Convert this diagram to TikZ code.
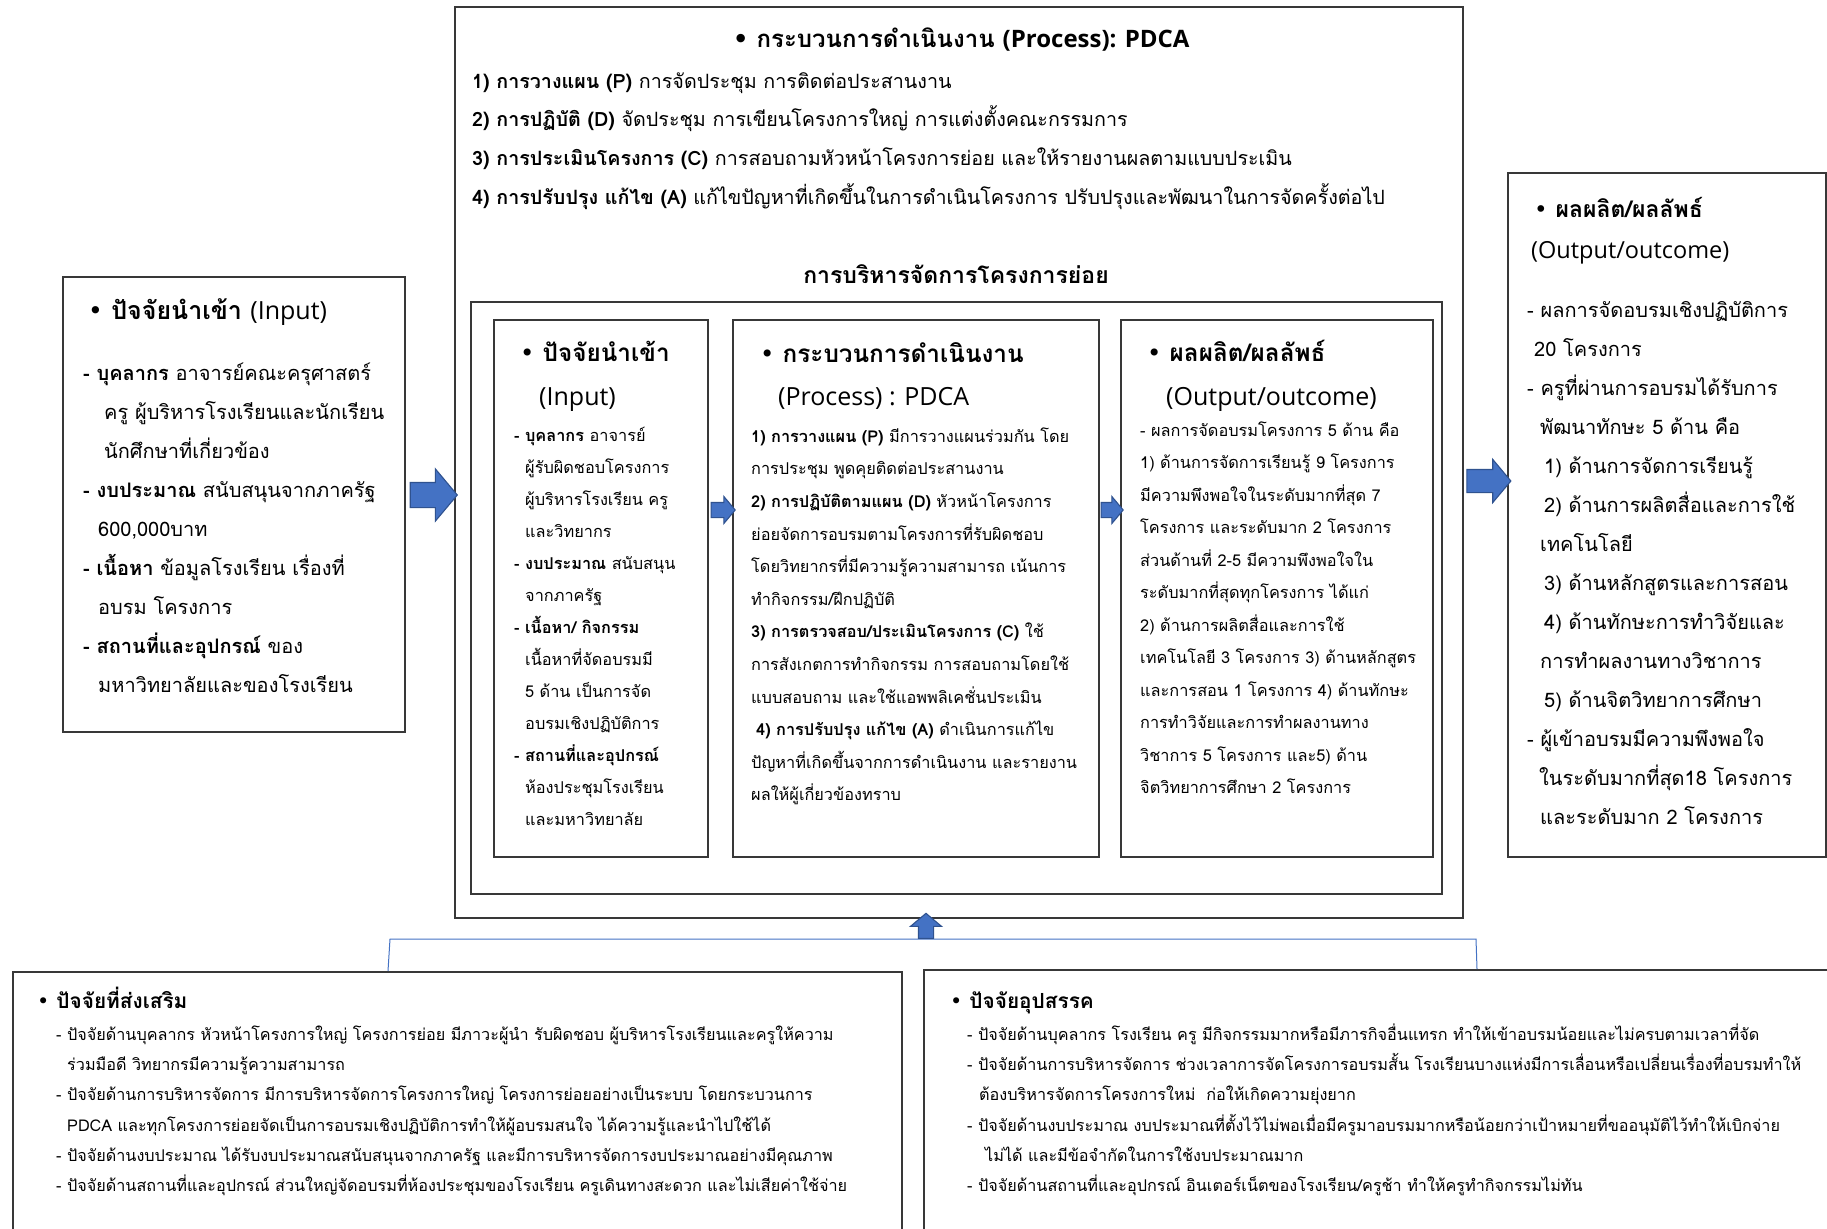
\documentclass[tikz,border=0pt]{standalone}
\usepackage{fontspec}
\setmainfont{Loma}[Script=Thai]
\newfontfamily\dvs{DejaVu Sans}
\newfontfamily\lat{Open Sans}
\usetikzlibrary{shapes.arrows}
\definecolor{abl}{HTML}{4472C4}
\definecolor{abd}{HTML}{2F528F}
\definecolor{edgec}{HTML}{383838}
\tikzset{
  box/.style={draw=edgec, line width=1.6pt, inner sep=0pt, anchor=north west},
  txt/.style={anchor=north west, inner sep=0pt, align=left},
  ttl/.style={anchor=base west, inner sep=0pt},
  blockarr/.style={single arrow, draw=abd, fill=abl, line width=1.1pt, inner sep=0pt,
    text depth=0pt, single arrow tip angle=100},
  bracket/.style={draw=abl, line width=1pt},
}
\newcommand{\bul}{{\dvs •}}
\begin{document}
\begin{tikzpicture}[x=1pt,y=-1pt]
\clip (0,0) rectangle (1827,1228);
\fill[white] (0,0) rectangle (1827,1228);

% ---------- boxes ----------
\node[box, minimum width=1008pt, minimum height=911pt] (top) at (454,6) {};
\node[box, minimum width=971pt, minimum height=592pt] (frame) at (470,301) {};
\node[box, minimum width=214pt, minimum height=537pt] (in1) at (493,319) {};
\node[box, minimum width=366pt, minimum height=537pt] (in2) at (732,319) {};
\node[box, minimum width=312pt, minimum height=537pt] (in3) at (1120,319) {};
\node[box, minimum width=342pt, minimum height=455pt] (left) at (62,276) {};
\node[box, minimum width=318pt, minimum height=684pt] (right) at (1507,172) {};
\node[box, minimum width=889pt, minimum height=280pt] (bl) at (12,971) {};
\node[box, minimum width=930pt, minimum height=280pt] (br) at (923,969) {};

% ---------- top box ----------
\node[ttl, font=\fontsize{24}{29}\selectfont\bfseries] (toptitle) at (733,48)
  {\bul\ กระบวนการดำเนินงาน {\lat (Process): PDCA}};
\node[txt, font=\fontsize{19.7}{38.7}\selectfont] (toptext) at (472,60.9)
  {\strut{\bfseries 1) การวางแผน (P)} การจัดประชุม การติดต่อประสานงาน\\
   {\bfseries 2) การปฏิบัติ (D)} จัดประชุม การเขียนโครงการใหญ่ การแต่งตั้งคณะกรรมการ\\
   {\bfseries 3) การประเมินโครงการ (C)} การสอบถามหัวหน้าโครงการย่อย และให้รายงานผลตามแบบประเมิน\\
   {\bfseries 4) การปรับปรุง แก้ไข (A)} แก้ไขปัญหาที่เกิดขึ้นในการดำเนินโครงการ ปรับปรุงและพัฒนาในการจัดครั้งต่อไป};
\node[anchor=base, inner sep=0pt, font=\fontsize{23}{28}\selectfont\bfseries] (subtitle) at (956,283)
  {การบริหารจัดการโครงการย่อย};

% ---------- left input box ----------
\node[ttl, font=\fontsize{25}{30}\selectfont] (lefttitle) at (88,319)
  {\bul\ {\bfseries ปัจจัยนำเข้า} {\lat\fontsize{25}{30}\selectfont (Input)}};
\node[txt, font=\fontsize{20}{39}\selectfont] (lefttext) at (83,352.7)
  {\strut{\bfseries - บุคลากร} อาจารย์คณะครุศาสตร์\\
   \hspace*{21pt}ครู ผู้บริหารโรงเรียนและนักเรียน\\
   \hspace*{21pt}นักศึกษาที่เกี่ยวข้อง\\
   {\bfseries - งบประมาณ} สนับสนุนจากภาครัฐ\\
   \hspace*{15pt}600,000บาท\\
   {\bfseries - เนื้อหา} ข้อมูลโรงเรียน เรื่องที่\\
   \hspace*{15pt}อบรม โครงการ\\
   {\bfseries - สถานที่และอุปกรณ์} ของ\\
   \hspace*{15pt}มหาวิทยาลัยและของโรงเรียน};

% ---------- inner box 1 ----------
\node[ttl, font=\fontsize{24.3}{29}\selectfont] (in1title) at (520,361)
  {\bul\ {\bfseries ปัจจัยนำเข้า}};
\node[ttl, font=\lat\fontsize{25}{30}\selectfont] (in1title2) at (539,405) {(Input)};
\node[txt, font=\fontsize{16.3}{32}\selectfont] (in1text) at (514,418.6)
  {\strut{\bfseries - บุคลากร} อาจารย์\\
   \hspace*{11pt}ผู้รับผิดชอบโครงการ\\
   \hspace*{11pt}ผู้บริหารโรงเรียน ครู\\
   \hspace*{11pt}และวิทยากร\\
   {\bfseries - งบประมาณ} สนับสนุน\\
   \hspace*{11pt}จากภาครัฐ\\
   {\bfseries - เนื้อหา/ กิจกรรม}\\
   \hspace*{11pt}เนื้อหาที่จัดอบรมมี\\
   \hspace*{11pt}5 ด้าน เป็นการจัด\\
   \hspace*{11pt}อบรมเชิงปฏิบัติการ\\
   {\bfseries - สถานที่และอุปกรณ์}\\
   \hspace*{11pt}ห้องประชุมโรงเรียน\\
   \hspace*{11pt}และมหาวิทยาลัย};

% ---------- inner box 2 ----------
\node[ttl, font=\fontsize{24.3}{29}\selectfont] (in2title) at (760,362)
  {\bul\ {\bfseries กระบวนการดำเนินงาน}};
\node[ttl, font=\lat\fontsize{25}{30}\selectfont] (in2title2) at (778,405) {(Process) : PDCA};
\node[txt, font=\fontsize{16.3}{32.6}\selectfont] (in2text) at (751,419.2)
  {\strut{\bfseries 1) การวางแผน (P)} มีการวางแผนร่วมกัน โดย\\
   การประชุม พูดคุยติดต่อประสานงาน\\
   {\bfseries 2) การปฏิบัติตามแผน (D)} หัวหน้าโครงการ\\
   ย่อยจัดการอบรมตามโครงการที่รับผิดชอบ\\
   โดยวิทยากรที่มีความรู้ความสามารถ เน้นการ\\
   ทำกิจกรรม/ฝึกปฏิบัติ\\
   {\bfseries 3) การตรวจสอบ/ประเมินโครงการ (C)} ใช้\\
   การสังเกตการทำกิจกรรม การสอบถามโดยใช้\\
   แบบสอบถาม และใช้แอพพลิเคชั่นประเมิน\\
   \hspace*{5pt}{\bfseries 4) การปรับปรุง แก้ไข (A)} ดำเนินการแก้ไข\\
   ปัญหาที่เกิดขึ้นจากการดำเนินงาน และรายงาน\\
   ผลให้ผู้เกี่ยวข้องทราบ};

% ---------- inner box 3 ----------
\node[ttl, font=\fontsize{24.3}{29}\selectfont] (in3title) at (1147,361)
  {\bul\ {\bfseries ผลผลิต/ผลลัพธ์}};
\node[ttl, font=\lat\fontsize{25}{30}\selectfont] (in3title2) at (1166,405) {(Output/outcome)};
\node[txt, font=\fontsize{16.3}{32.5}\selectfont] (in3text) at (1140,413.3)
  {\strut - ผลการจัดอบรมโครงการ 5 ด้าน คือ\\
   1) ด้านการจัดการเรียนรู้ 9 โครงการ\\
   มีความพึงพอใจในระดับมากที่สุด 7\\
   โครงการ และระดับมาก 2 โครงการ\\
   ส่วนด้านที่ 2-5 มีความพึงพอใจใน\\
   ระดับมากที่สุดทุกโครงการ ได้แก่\\
   2) ด้านการผลิตสื่อและการใช้\\
   เทคโนโลยี 3 โครงการ 3) ด้านหลักสูตร\\
   และการสอน 1 โครงการ 4) ด้านทักษะ\\
   การทำวิจัยและการทำผลงานทาง\\
   วิชาการ 5 โครงการ และ5) ด้าน\\
   จิตวิทยาการศึกษา 2 โครงการ};

% ---------- right output box ----------
\node[ttl, font=\fontsize{23}{28}\selectfont] (righttitle) at (1534,217)
  {\bul\ {\bfseries ผลผลิต/ผลลัพธ์}};
\node[ttl, font=\lat\fontsize{23.5}{28}\selectfont] (righttitle2) at (1531,258) {(Output/outcome)};
\node[txt, font=\fontsize{20}{39}\selectfont] (righttext) at (1527,289.7)
  {\strut - ผลการจัดอบรมเชิงปฏิบัติการ\\
   \hspace*{7pt}20 โครงการ\\
   - ครูที่ผ่านการอบรมได้รับการ\\
   \hspace*{13pt}พัฒนาทักษะ 5 ด้าน คือ\\
   \hspace*{17pt}1) ด้านการจัดการเรียนรู้\\
   \hspace*{17pt}2) ด้านการผลิตสื่อและการใช้\\
   \hspace*{13pt}เทคโนโลยี\\
   \hspace*{17pt}3) ด้านหลักสูตรและการสอน\\
   \hspace*{17pt}4) ด้านทักษะการทำวิจัยและ\\
   \hspace*{13pt}การทำผลงานทางวิชาการ\\
   \hspace*{17pt}5) ด้านจิตวิทยาการศึกษา\\
   - ผู้เข้าอบรมมีความพึงพอใจ\\
   \hspace*{12pt}ในระดับมากที่สุด18 โครงการ\\
   \hspace*{13pt}และระดับมาก 2 โครงการ};

% ---------- bottom left ----------
\node[ttl, font=\fontsize{20.8}{25}\selectfont] (bltitle) at (37,1008)
  {\bul\ {\bfseries ปัจจัยที่ส่งเสริม}};
\node[txt, font=\fontsize{16.2}{30.3}\selectfont] (bltext) at (56,1018.8)
  {\strut - ปัจจัยด้านบุคลากร หัวหน้าโครงการใหญ่ โครงการย่อย มีภาวะผู้นำ รับผิดชอบ ผู้บริหารโรงเรียนและครูให้ความ\\
   \hspace*{11pt}ร่วมมือดี วิทยากรมีความรู้ความสามารถ\\
   - ปัจจัยด้านการบริหารจัดการ มีการบริหารจัดการโครงการใหญ่ โครงการย่อยอย่างเป็นระบบ โดยกระบวนการ\\
   \hspace*{11pt}PDCA และทุกโครงการย่อยจัดเป็นการอบรมเชิงปฏิบัติการทำให้ผู้อบรมสนใจ ได้ความรู้และนำไปใช้ได้\\
   - ปัจจัยด้านงบประมาณ ได้รับงบประมาณสนับสนุนจากภาครัฐ และมีการบริหารจัดการงบประมาณอย่างมีคุณภาพ\\
   - ปัจจัยด้านสถานที่และอุปกรณ์ ส่วนใหญ่จัดอบรมที่ห้องประชุมของโรงเรียน ครูเดินทางสะดวก และไม่เสียค่าใช้จ่าย};

% ---------- bottom right ----------
\node[ttl, font=\fontsize{20.8}{25}\selectfont] (brtitle) at (950,1008)
  {\bul\ {\bfseries ปัจจัยอุปสรรค}};
\node[txt, font=\fontsize{16.2}{30.3}\selectfont] (brtext) at (967,1018.8)
  {\strut - ปัจจัยด้านบุคลากร โรงเรียน ครู มีกิจกรรมมากหรือมีภารกิจอื่นแทรก ทำให้เข้าอบรมน้อยและไม่ครบตามเวลาที่จัด\\
   - ปัจจัยด้านการบริหารจัดการ ช่วงเวลาการจัดโครงการอบรมสั้น โรงเรียนบางแห่งมีการเลื่อนหรือเปลี่ยนเรื่องที่อบรมทำให้\\
   \hspace*{12pt}ต้องบริหารจัดการโครงการใหม่ \ ก่อให้เกิดความยุ่งยาก\\
   - ปัจจัยด้านงบประมาณ งบประมาณที่ตั้งไว้ไม่พอเมื่อมีครูมาอบรมมากหรือน้อยกว่าเป้าหมายที่ขออนุมัติไว้ทำให้เบิกจ่าย\\
   \hspace*{18pt}ไม่ได้ และมีข้อจำกัดในการใช้งบประมาณมาก\\
   - ปัจจัยด้านสถานที่และอุปกรณ์ อินเตอร์เน็ตของโรงเรียน/ครูช้า ทำให้ครูทำกิจกรรมไม่ทัน};

% ---------- block arrows ----------
\node[blockarr, minimum height=47pt, minimum width=51pt, text height=24pt,
  single arrow head extend=13.5pt] (a1) at (428.5,495) {};
\node[blockarr, minimum height=24pt, minimum width=26pt, text height=14pt,
  single arrow head extend=6pt] (a2) at (720,510) {};
\node[blockarr, minimum height=22pt, minimum width=26pt, text height=14pt,
  single arrow head extend=6pt] (a3) at (1109,510) {};
\node[blockarr, minimum height=44pt, minimum width=42pt, text height=22pt,
  single arrow head extend=10pt] (a4) at (1484,481) {};

% ---------- bracket and up arrow ----------
\coordinate (bkl) at (388,971);
\coordinate (bkr) at (1477,969);
\coordinate (bkl2) at (390,939);
\coordinate (bkr2) at (1476,939);
\draw[bracket] (bkl) -- (bkl2) -- (bkr2) -- (bkr);
\node[blockarr, minimum height=25pt, minimum width=30pt, text height=14pt,
  single arrow head extend=8pt, rotate=90] (a5) at (926,929) {};
\end{tikzpicture}
\end{document}
